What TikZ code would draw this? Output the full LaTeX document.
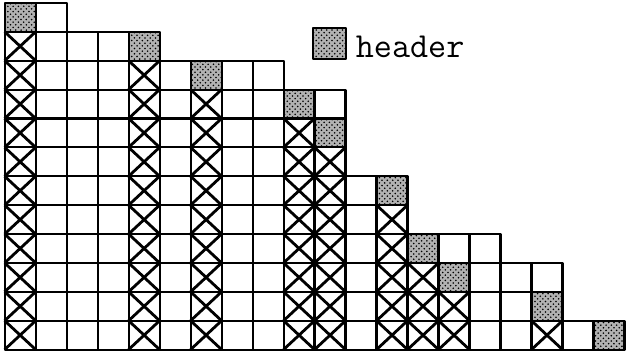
\documentclass[tikz,border=0pt]{standalone}
\usepackage{fontspec}
\usetikzlibrary{patterns, positioning}

\tikzset{
  cellbox/.style={draw, line width=1.2pt},
  headbox/.style={cellbox, preaction={fill=black!30}, pattern=crosshatch dots},
  crossline/.style={line width=1.6pt},
}

\begin{document}
\begin{tikzpicture}[x=0.62cm, y=-0.578cm, line join=round]
  \useasboundingbox (-0.15,-0.1) rectangle (20.05,12.25);

  % columns: index / first row / header row (12 = no header)
  \foreach \c/\t/\h in {0/0/0, 1/0/12, 2/1/12, 3/1/12, 4/1/1, 5/2/12, 6/2/2,
      7/2/12, 8/2/12, 9/3/3, 10/3/4, 11/6/12, 12/6/6, 13/8/8, 14/8/9,
      15/8/12, 16/9/12, 17/9/10, 18/11/12, 19/11/11}{
    \foreach \r in {\t,...,11}{
      \ifnum\r<\h
        \draw[cellbox] (\c,\r) rectangle ++(1,1);
      \else\ifnum\r=\h
        \draw[headbox] (\c,\r) rectangle ++(1,1);
      \else
        \draw[crossline] (\c,\r) -- ++(1,1) (\c+1,\r) -- ++(-1,1);
        \draw[cellbox] (\c,\r) rectangle ++(1,1);
      \fi\fi
    }
  }

  % legend
  \node (key) [headbox, minimum width=0.66cm, minimum height=0.62cm,
    inner sep=0pt] at (10.48,1.40) {};
  \node (keylabel) [anchor=base west, inner sep=0pt,
    font=\fontsize{20}{24}\selectfont\ttfamily]
    at ([xshift=0.17cm, yshift=0.04cm]key.south east) {header};
\end{tikzpicture}
\end{document}
